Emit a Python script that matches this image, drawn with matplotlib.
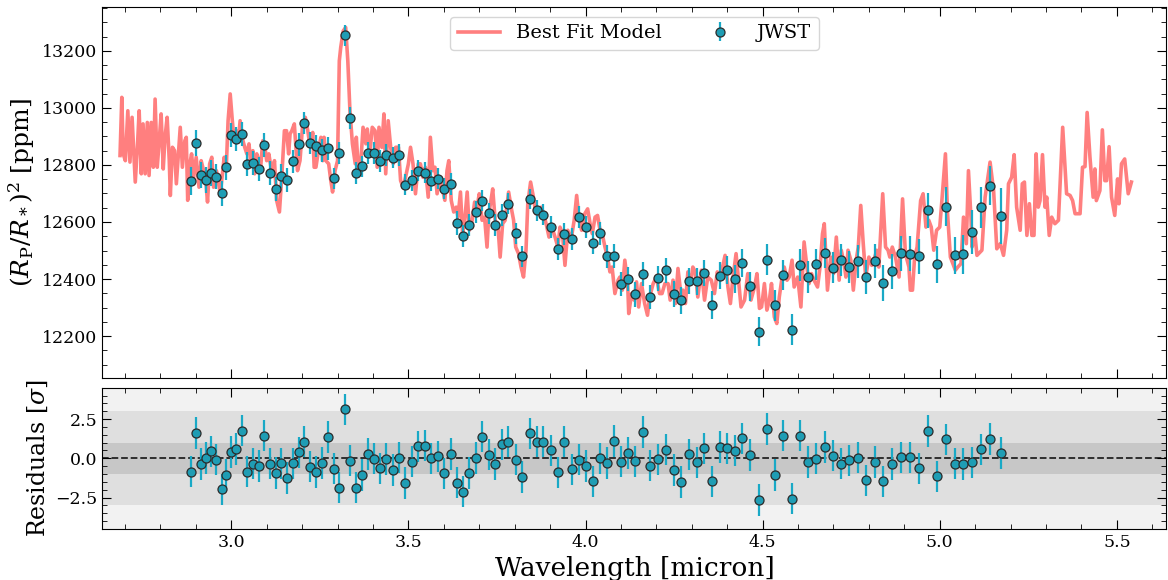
import matplotlib.pyplot as plt
import matplotlib.ticker as tick

plt.rcParams['font.family'] = ['DejaVu Serif']
plt.rcParams['mathtext.fontset'] = 'dejavuserif'

# best fit model (wavelength in micron, transit depth in ppm)
model_wl = [2.686, 2.691, 2.695, 2.701, 2.708, 2.714, 2.720, 2.729, 2.735, 2.740,
            2.746, 2.751, 2.757, 2.763, 2.768, 2.774, 2.780, 2.785, 2.791, 2.796,
            2.802, 2.808, 2.813, 2.819, 2.825, 2.828, 2.834, 2.840, 2.845, 2.851,
            2.856, 2.862, 2.869, 2.873, 2.877, 2.883, 2.888, 2.894, 2.901, 2.909,
            2.915, 2.922, 2.928, 2.933, 2.939, 2.945, 2.950, 2.958, 2.963, 2.969,
            2.975, 2.980, 2.986, 2.991, 2.997, 3.003, 3.008, 3.014, 3.020, 3.025,
            3.033, 3.038, 3.044, 3.050, 3.055, 3.061, 3.066, 3.072, 3.078, 3.083,
            3.089, 3.095, 3.100, 3.106, 3.115, 3.122, 3.128, 3.136, 3.143, 3.150,
            3.156, 3.162, 3.166, 3.171, 3.178, 3.187, 3.194, 3.201, 3.209, 3.216,
            3.222, 3.230, 3.234, 3.239, 3.246, 3.253, 3.258, 3.262, 3.267, 3.275,
            3.281, 3.286, 3.293, 3.300, 3.305, 3.309, 3.316, 3.323, 3.329, 3.335,
            3.342, 3.350, 3.353, 3.359, 3.366, 3.372, 3.380, 3.384, 3.391, 3.398,
            3.406, 3.412, 3.417, 3.425, 3.431, 3.436, 3.443, 3.450, 3.457, 3.464,
            3.472, 3.478, 3.485, 3.492, 3.500, 3.506, 3.513, 3.520, 3.528, 3.534,
            3.541, 3.548, 3.556, 3.562, 3.569, 3.575, 3.581, 3.588, 3.595, 3.603,
            3.609, 3.614, 3.621, 3.628, 3.635, 3.640, 3.647, 3.653, 3.659, 3.666,
            3.672, 3.680, 3.687, 3.694, 3.700, 3.708, 3.715, 3.722, 3.727, 3.733,
            3.738, 3.745, 3.753, 3.759, 3.766, 3.773, 3.783, 3.790, 3.797, 3.803,
            3.811, 3.818, 3.825, 3.832, 3.837, 3.845, 3.853, 3.860, 3.867, 3.875,
            3.882, 3.891, 3.897, 3.905, 3.914, 3.922, 3.928, 3.935, 3.942, 3.950,
            3.959, 3.968, 3.975, 3.982, 3.989, 3.998, 4.006, 4.013, 4.019, 4.027,
            4.034, 4.041, 4.047, 4.055, 4.062, 4.069, 4.075, 4.083, 4.092, 4.097,
            4.104, 4.111, 4.119, 4.122, 4.130, 4.137, 4.144, 4.150, 4.158, 4.167,
            4.175, 4.181, 4.191, 4.200, 4.209, 4.216, 4.224, 4.233, 4.239, 4.247,
            4.254, 4.261, 4.269, 4.275, 4.282, 4.289, 4.297, 4.303, 4.310, 4.317,
            4.327, 4.336, 4.345, 4.355, 4.364, 4.372, 4.378, 4.385, 4.394, 4.402,
            4.409, 4.416, 4.425, 4.432, 4.439, 4.449, 4.458, 4.467, 4.477, 4.484,
            4.491, 4.497, 4.505, 4.512, 4.519, 4.525, 4.533, 4.540, 4.547, 4.555,
            4.561, 4.569, 4.575, 4.583, 4.589, 4.599, 4.608, 4.617, 4.625, 4.631,
            4.638, 4.645, 4.655, 4.662, 4.669, 4.674, 4.683, 4.692, 4.700, 4.708,
            4.716, 4.722, 4.730, 4.735, 4.741, 4.749, 4.756, 4.764, 4.770, 4.777,
            4.784, 4.791, 4.800, 4.808, 4.814, 4.822, 4.828, 4.839, 4.847, 4.854,
            4.859, 4.866, 4.875, 4.885, 4.895, 4.903, 4.913, 4.917, 4.923, 4.929,
            4.936, 4.946, 4.953, 4.961, 4.969, 4.976, 4.983, 4.991, 5.000, 5.006,
            5.016, 5.022, 5.030, 5.037, 5.044, 5.051, 5.060, 5.067, 5.075, 5.081,
            5.088, 5.091, 5.100, 5.105, 5.119, 5.128, 5.142, 5.152, 5.161, 5.171,
            5.180, 5.189, 5.194, 5.203, 5.210, 5.217, 5.227, 5.233, 5.239, 5.246,
            5.253, 5.260, 5.266, 5.272, 5.278, 5.283, 5.290, 5.297, 5.302, 5.309,
            5.316, 5.325, 5.335, 5.347, 5.358, 5.368, 5.375, 5.382, 5.386, 5.396,
            5.403, 5.410, 5.416, 5.424, 5.433, 5.438, 5.442, 5.452, 5.459, 5.466,
            5.471, 5.478, 5.485, 5.494, 5.502, 5.506, 5.513, 5.522, 5.532, 5.541]
model_ppm = [12833, 13037, 12839, 12815, 12990, 12810, 12967, 12740, 12862, 12990,
             12769, 12944, 12769, 12949, 12763, 12949, 12792, 13031, 12792, 12874,
             12979, 12786, 12897, 12967, 12815, 12693, 12862, 12850, 12734, 12839,
             12932, 12792, 12885, 12897, 12676, 12804, 12839, 12757, 12827, 12722,
             12815, 12780, 12745, 12670, 12804, 12827, 12722, 12780, 12745, 12699,
             12769, 12827, 12792, 12955, 13049, 12955, 12885, 12920, 12885, 12955,
             12885, 12862, 12839, 12874, 12804, 12850, 12769, 12839, 12815, 12792,
             12885, 12862, 12815, 12839, 12769, 12815, 12676, 12635, 12769, 12920,
             12920, 12839, 12909, 12920, 12944, 12780, 12815, 12932, 12967, 12920,
             12868, 12914, 12792, 12792, 12850, 12897, 12815, 12897, 12815, 12804,
             12745, 12705, 12780, 12815, 13165, 13212, 13270, 13282, 13165, 12990,
             12874, 12804, 12897, 12780, 12815, 12932, 12874, 12926, 12839, 12932,
             12920, 12792, 12932, 12862, 12979, 12769, 12955, 12862, 12804, 12862,
             12862, 12745, 12722, 12757, 12804, 12862, 12804, 12699, 12804, 12804,
             12757, 12792, 12687, 12897, 12780, 12792, 12699, 12757, 12722, 12676,
             12780, 12815, 12675, 12635, 12652, 12617, 12705, 12559, 12606, 12705,
             12571, 12606, 12670, 12652, 12699, 12606, 12617, 12512, 12629, 12675,
             12716, 12606, 12582, 12477, 12594, 12606, 12705, 12652, 12606, 12512,
             12489, 12442, 12407, 12501, 12664, 12740, 12687, 12629, 12641, 12652,
             12629, 12582, 12547, 12582, 12547, 12512, 12582, 12559, 12448, 12571,
             12536, 12606, 12693, 12606, 12571, 12629, 12646, 12594, 12559, 12617,
             12623, 12571, 12559, 12512, 12477, 12425, 12442, 12349, 12396, 12407,
             12361, 12466, 12384, 12279, 12349, 12326, 12390, 12302, 12384, 12314,
             12273, 12337, 12384, 12407, 12349, 12349, 12384, 12384, 12326, 12396,
             12314, 12437, 12349, 12361, 12314, 12425, 12384, 12442, 12425, 12337,
             12431, 12326, 12407, 12396, 12349, 12425, 12407, 12431, 12483, 12372,
             12314, 12402, 12489, 12396, 12302, 12326, 12419, 12326, 12372, 12419,
             12297, 12302, 12384, 12291, 12326, 12384, 12267, 12244, 12337, 12407,
             12442, 12396, 12407, 12466, 12372, 12407, 12302, 12530, 12442, 12384,
             12419, 12396, 12372, 12442, 12559, 12594, 12361, 12477, 12419, 12547,
             12396, 12501, 12454, 12407, 12501, 12466, 12361, 12466, 12512, 12658,
             12524, 12407, 12477, 12448, 12466, 12501, 12442, 12699, 12512, 12501,
             12477, 12512, 12477, 12407, 12681, 12489, 12442, 12361, 12361, 12477,
             12512, 12675, 12699, 12582, 12606, 12582, 12501, 12571, 12582, 12675,
             12839, 12629, 12477, 12454, 12431, 12442, 12454, 12617, 12524, 12780,
             12617, 12512, 12547, 12483, 12501, 12687, 12810, 12710, 12506, 12524,
             12483, 12571, 12734, 12757, 12836, 12652, 12571, 12734, 12740, 12553,
             12664, 12553, 12553, 12839, 12652, 12675, 12836, 12652, 12687, 12553,
             12617, 12594, 12606, 12932, 12699, 12693, 12675, 12629, 12629, 12629,
             12792, 12794, 12984, 12827, 12687, 12786, 12675, 12710, 12923, 12745,
             12745, 12864, 12687, 12623, 12751, 12664, 12804, 12821, 12699, 12740]

# JWST binned spectrum
wl = [2.886, 2.900, 2.914, 2.930, 2.944, 2.958, 2.973, 2.986, 3.000, 3.014,
      3.029, 3.044, 3.061, 3.078, 3.093, 3.110, 3.127, 3.141, 3.158, 3.173,
      3.190, 3.206, 3.223, 3.239, 3.255, 3.272, 3.289, 3.304, 3.321, 3.336,
      3.353, 3.369, 3.385, 3.402, 3.420, 3.438, 3.457, 3.474, 3.491, 3.509,
      3.528, 3.546, 3.564, 3.583, 3.601, 3.619, 3.636, 3.653, 3.672, 3.690,
      3.708, 3.727, 3.744, 3.763, 3.782, 3.803, 3.822, 3.842, 3.862, 3.881,
      3.902, 3.921, 3.940, 3.961, 3.981, 4.000, 4.020, 4.041, 4.060, 4.080,
      4.099, 4.120, 4.141, 4.163, 4.183, 4.206, 4.227, 4.249, 4.270, 4.292,
      4.314, 4.335, 4.357, 4.379, 4.400, 4.421, 4.443, 4.464, 4.489, 4.512,
      4.535, 4.558, 4.582, 4.605, 4.629, 4.652, 4.675, 4.699, 4.722, 4.745,
      4.768, 4.792, 4.816, 4.841, 4.866, 4.891, 4.916, 4.941, 4.966, 4.992,
      5.017, 5.042, 5.067, 5.092, 5.117, 5.141, 5.173]
depth = [12744, 12877, 12766, 12748, 12771, 12759, 12700, 12792, 12905, 12891,
         12907, 12804, 12806, 12785, 12870, 12772, 12715, 12762, 12748, 12813,
         12872, 12947, 12878, 12867, 12851, 12858, 12753, 12841, 13254, 12965,
         12771, 12795, 12843, 12843, 12815, 12834, 12826, 12834, 12731, 12746,
         12780, 12772, 12745, 12751, 12716, 12734, 12596, 12551, 12589, 12635,
         12675, 12630, 12589, 12624, 12664, 12561, 12479, 12680, 12641, 12625,
         12582, 12505, 12558, 12540, 12617, 12582, 12528, 12561, 12479, 12481,
         12383, 12399, 12346, 12418, 12337, 12402, 12431, 12347, 12325, 12393,
         12392, 12421, 12309, 12412, 12432, 12400, 12456, 12374, 12216, 12468,
         12308, 12413, 12223, 12448, 12407, 12452, 12491, 12440, 12468, 12442,
         12462, 12406, 12463, 12386, 12427, 12490, 12489, 12480, 12641, 12451,
         12653, 12483, 12487, 12565, 12652, 12727, 12621]
depth_err = [50, 47, 46, 46, 45, 45, 43, 44, 42, 42,
             42, 42, 42, 42, 42, 42, 42, 42, 42, 41,
             40, 40, 39, 39, 39, 39, 38, 38, 38, 38,
             38, 38, 38, 38, 38, 38, 38, 38, 37, 37,
             37, 37, 37, 37, 37, 38, 41, 40, 39, 39,
             38, 38, 38, 38, 37, 37, 36, 36, 37, 37,
             38, 38, 38, 38, 39, 39, 40, 40, 41, 41,
             41, 42, 43, 41, 43, 44, 44, 45, 46, 46,
             47, 47, 48, 48, 49, 49, 50, 51, 52, 54,
             54, 52, 55, 56, 55, 54, 54, 55, 56, 57,
             58, 59, 60, 62, 61, 62, 62, 62, 62, 64,
             68, 65, 68, 77, 72, 69, 97]
resid = [-0.85, 1.62, -0.36, 0.02, 0.45, -0.09, -1.97, -1.07, 0.41, 0.60,
         1.77, -0.85, -0.34, -0.49, 1.45, -0.34, -0.94, -0.32, -1.26, -0.32,
         0.38, 1.07, -0.53, -0.88, -0.30, 1.35, -0.66, -1.86, 3.12, -0.15,
         -1.86, -1.07, 0.28, -0.02, -0.64, -0.04, -0.75, 0.04, -1.56, -0.21,
         0.77, 0.81, 0.00, 0.13, -0.96, 0.28, -1.54, -2.12, -0.94, 0.02,
         1.39, 0.24, -0.36, 0.90, 1.07, -0.09, -1.18, 1.60, 1.07, 1.07,
         0.51, -0.90, 1.07, -0.71, -0.09, -0.49, -1.47, 0.00, -0.30, 1.11,
         -0.21, 0.34, -0.19, 1.67, -0.47, -0.06, 0.56, -0.73, -1.50, 0.26,
         -0.26, 0.64, -1.47, 0.73, 0.64, 0.49, 1.28, 0.21, -2.65, 1.88,
         -1.05, 1.45, -2.56, 1.45, -0.24, -0.02, 0.71, 0.17, -0.34, -0.13,
         0.04, -1.41, -0.24, -1.47, -0.36, 0.06, 0.06, -0.64, 1.73, -1.15,
         1.20, -0.34, -0.36, -0.26, 0.58, 1.24, 0.34]
resid_err = [1.0] * len(resid)

fig = plt.figure(figsize=(11.68, 5.8), dpi=100)
ax1 = fig.add_axes([0.0876, 0.3483, 0.9111, 0.6397])
ax2 = fig.add_axes([0.0876, 0.0879, 0.9111, 0.2437])

pt_style = dict(fmt='o', ms=6.5, mfc='#1f9db4', mec='#2b2b2b', mew=0.9,
                ecolor='#19a9c6', elinewidth=1.6, capsize=0)

ax1.plot(model_wl, model_ppm, color='#ff7f7f', lw=2.6, label='Best Fit Model', zorder=1)
ax1.errorbar(wl, depth, yerr=depth_err, label='JWST', zorder=3, **pt_style)
ax1.set_xlim(2.636, 5.64)
ax1.set_ylim(12053, 13354)
ax1.yaxis.set_major_locator(tick.MultipleLocator(200))
ax1.yaxis.set_minor_locator(tick.MultipleLocator(50))
ax1.set_ylabel(r'$(R_{\rm P}/R_*)^2$ [ppm]', fontsize=18)
ax1.legend(loc='upper center', ncol=2, fontsize=14, handlelength=2.2,
           columnspacing=1.9)

ax2.set_facecolor('#f2f2f2')
ax2.axhspan(-3, 3, color='#dfdfdf', lw=0, zorder=0)
ax2.axhspan(-1, 1, color='#c7c7c7', lw=0, zorder=0)
ax2.axhline(0, color='#222222', ls='--', lw=1.3, zorder=1)
ax2.errorbar(wl, resid, yerr=resid_err, zorder=3, **pt_style)
ax2.set_xlim(2.636, 5.64)
ax2.set_ylim(-4.5, 4.5)
ax2.yaxis.set_major_locator(tick.MultipleLocator(2.5))
ax2.yaxis.set_minor_locator(tick.MultipleLocator(0.5))
ax2.set_ylabel(r'Residuals [$\sigma$]', fontsize=17)
ax2.set_xlabel('Wavelength [micron]', fontsize=19)

for ax in (ax1, ax2):
    ax.xaxis.set_major_locator(tick.MultipleLocator(0.5))
    ax.xaxis.set_minor_locator(tick.MultipleLocator(0.1))
    ax.tick_params(which='both', direction='in', top=True, right=True, labelsize=12.5)
    ax.tick_params(which='major', length=6.5)
    ax.tick_params(which='minor', length=3.5)
ax1.tick_params(labelbottom=False)

fig.savefig('out.png', dpi=100)
